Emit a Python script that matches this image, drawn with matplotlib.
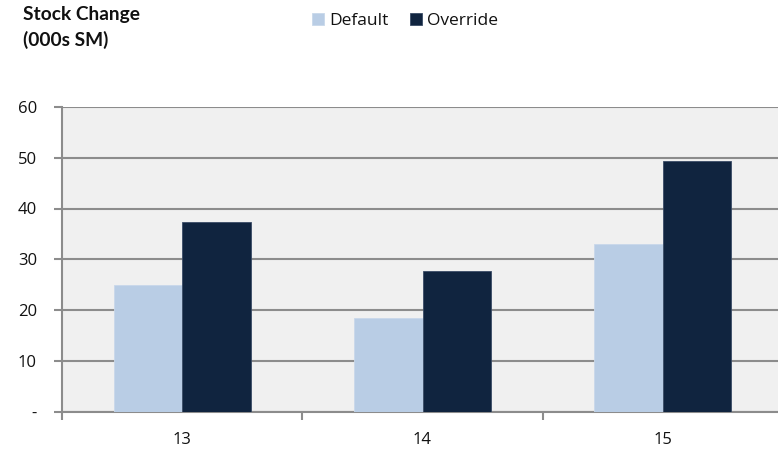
import matplotlib
matplotlib.use("Agg")
import matplotlib.pyplot as plt
import numpy as np

categories = ["13", "14", "15"]
default_vals = [25.0, 18.4, 33.0]
override_vals = [37.4, 27.6, 49.3]
y_ticks = [0, 10, 20, 30, 40, 50, 60]
y_tick_labels = ["-", "10", "20", "30", "40", "50", "60"]

plt.rcParams["font.family"] = ["Open Sans", "DejaVu Sans"]

W, H = 778, 450
fig = plt.figure(figsize=(W / 100, H / 100), dpi=100)
ax = fig.add_axes([62 / W, 1 - 411.5 / H, 721 / W, (411.5 - 107) / H])

x = np.arange(len(categories))
bw = 0.285
light = "#B9CDE5"
dark = "#10243F"
ax.bar(x - bw / 2, default_vals, width=bw, color=light, edgecolor="#C9D8EA",
       linewidth=0.6, label="Default", zorder=3)
ax.bar(x + bw / 2, override_vals, width=bw, color=dark, edgecolor="#3A4C66",
       linewidth=0.6, label="Override", zorder=3)

ax.set_facecolor("#F0F0F0")
ax.set_xlim(-0.5, 2.5)
ax.set_ylim(0, 60)
ax.set_yticks(y_ticks)
ax.set_yticklabels(y_tick_labels)
ax.yaxis.grid(True, color="#8C8C8C", linewidth=1.5, zorder=1)
ax.set_axisbelow(True)

ax.set_xticks(x)
ax.set_xticklabels(categories)
ax.set_xticks([-0.5, 0.5, 1.5, 2.5], minor=True)
ax.tick_params(axis="x", which="major", length=0, pad=14.5, labelsize=12, labelcolor="#111111")
ax.tick_params(axis="x", which="minor", length=6, width=1.5, color="#8C8C8C")
ax.tick_params(axis="y", length=6, width=1.5, color="#8C8C8C", pad=12, labelsize=12,
               labelcolor="#111111")

for s in ["top", "right"]:
    ax.spines[s].set_visible(False)
for s in ["left", "bottom"]:
    ax.spines[s].set_color("#8C8C8C")
    ax.spines[s].set_linewidth(1.5)

fig.text(23 / W, 1 - 6 / H, "Stock Change\n(000s SM)", fontsize=13.8, fontweight="bold",
         family=["Lato", "DejaVu Sans"], va="top", ha="left", linespacing=1.5,
         color="#111111")

leg = fig.legend(loc="center left", bbox_to_anchor=(312 / W, 1 - 21 / H), ncol=2,
                 frameon=False, fontsize=12.5, handlelength=0.7, handleheight=0.7,
                 handletextpad=0.3, columnspacing=1.2, borderaxespad=0, borderpad=0)
for t in leg.get_texts():
    t.set_color("#111111")

fig.savefig("out.png", dpi=100)
